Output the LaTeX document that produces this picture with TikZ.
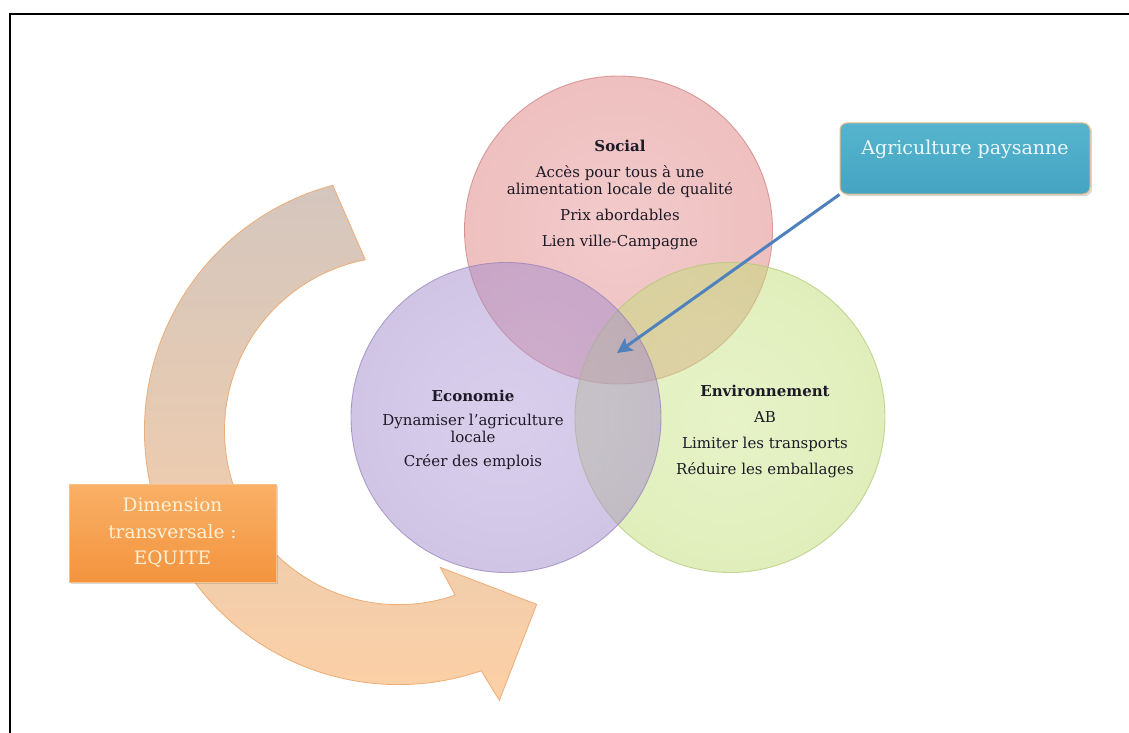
\documentclass[tikz,border=0pt]{standalone}
\usepackage{fontspec}
\setmainfont{DejaVu Serif}
\usetikzlibrary{calc,arrows.meta,shadows}
\definecolor{sIn}{RGB}{232,150,150}
\definecolor{sOut}{RGB}{212,108,108}
\definecolor{sBorder}{RGB}{205,125,125}
\definecolor{eIn}{RGB}{180,160,218}
\definecolor{eOut}{RGB}{145,118,190}
\definecolor{eBorder}{RGB}{150,128,185}
\definecolor{gIn}{RGB}{208,232,145}
\definecolor{gOut}{RGB}{180,210,96}
\definecolor{gBorder}{RGB}{175,200,115}
\definecolor{textdark}{RGB}{28,26,38}
\definecolor{arrTop}{RGB}{212,198,190}
\definecolor{arrMid}{RGB}{240,194,154}
\definecolor{arrBot}{RGB}{252,208,165}
\definecolor{arrBorder}{RGB}{238,172,118}
\definecolor{boxTop}{RGB}{249,176,102}
\definecolor{boxBot}{RGB}{243,148,62}
\definecolor{boxText}{RGB}{255,241,216}
\definecolor{tealTop}{RGB}{86,180,205}
\definecolor{tealBot}{RGB}{68,164,194}
\definecolor{tealBorder}{RGB}{232,188,140}
\definecolor{linkBlue}{RGB}{79,129,189}
\definecolor{agriText}{RGB}{236,248,255}
\pgfdeclareradialshading{socialsh}{\pgfpoint{0bp}{0bp}}{color(0bp)=(sIn); color(50bp)=(sOut)}
\pgfdeclareradialshading{ecosh}{\pgfpoint{0bp}{0bp}}{color(0bp)=(eIn); color(50bp)=(eOut)}
\pgfdeclareradialshading{envsh}{\pgfpoint{0bp}{0bp}}{color(0bp)=(gIn); color(50bp)=(gOut)}
\tikzset{
  venn/.style={circle, inner sep=0pt, minimum size=#1, line width=0.9pt, fill opacity=0.5, draw opacity=0.7},
  circtext/.style={align=center, inner sep=0pt, anchor=north, text=textdark,
    font=\fontsize{15}{17}\selectfont},
  bigarrow/.style={draw=arrBorder, line width=0.8pt, top color=arrTop, middle color=arrMid, bottom color=arrBot},
  equitebox/.style={rectangle, minimum width=207pt, minimum height=98pt, inner sep=0pt,
    top color=boxTop, bottom color=boxBot, draw=boxTop!80!white, line width=0.6pt,
    drop shadow={shadow xshift=2pt, shadow yshift=-2pt, opacity=0.3},
    align=center, text=boxText, font=\fontsize{18.5}{26.5}\selectfont},
  agribox/.style={rectangle, rounded corners=7pt, minimum width=250pt, minimum height=71pt, inner sep=0pt,
    top color=tealTop, bottom color=tealBot, draw=tealBorder, line width=1pt,
    drop shadow={shadow xshift=2pt, shadow yshift=-2pt, opacity=0.3}},
  agritext/.style={inner sep=0pt, text=agriText, font=\fontsize{19}{22}\selectfont},
  link/.style={draw=linkBlue, line width=3pt, -{Stealth[length=15pt, width=15pt, inset=3pt]}},
  framebar/.style={line width=2.6pt, black}
}
\begin{document}
\begin{tikzpicture}[x=1pt, y=-1pt]
\useasboundingbox (0,0) rectangle (1129,733);
\draw[framebar] (1129,14) -- (10,14) -- (10,733);

% curved arrow
\coordinate (arccenter) at (398.5,430.6);
\path[bigarrow] ($(arccenter)+(-105:254)$) arc[start angle=-105, end angle=-289, radius=254]
  -- ($(arccenter)+(-290.5:288)$) -- ($(arccenter)+(-308.5:222)$) -- ($(arccenter)+(-287:143)$)
  -- ($(arccenter)+(-289:174)$) arc[start angle=-289, end angle=-101, radius=174] -- cycle;

% circles
\node[venn=308pt, draw=sBorder, shade, shading=socialsh] (social) at (618.5,230) {};
\node[venn=310pt, draw=gBorder, shade, shading=envsh] (environnement) at (730,417.5) {};
\node[venn=310pt, draw=eBorder, shade, shading=ecosh] (economie) at (506,417.5) {};

% texts
\node[circtext] (socialtxt) at (620,140) {\textbf{Social}\\[9pt]
  Accès pour tous à une\\ alimentation locale de qualité\\[9pt]
  Prix abordables\\[9pt] Lien ville-Campagne};
\node[circtext] (ecotxt) at (473,390) {\textbf{Economie}\\[7pt]
  Dynamiser l’agriculture\\ locale\\[7pt] Créer des emplois};
\node[circtext] (envtxt) at (765,385) {\textbf{Environnement}\\[9pt]
  AB\\[9pt] Limiter les transports\\[9pt] Réduire les emballages};

% boxes
\node[equitebox] (equite) at (172.5,533) {Dimension\\ transversale :\\ EQUITE};
\coordinate (venncenter) at (617,353);
\node[agribox] (agri) at (965,158.5) {};
\draw[link] (agri.south west) -- (venncenter);
\node[agritext] (agrilabel) at (965,149.5) {Agriculture paysanne};
\end{tikzpicture}
\end{document}
